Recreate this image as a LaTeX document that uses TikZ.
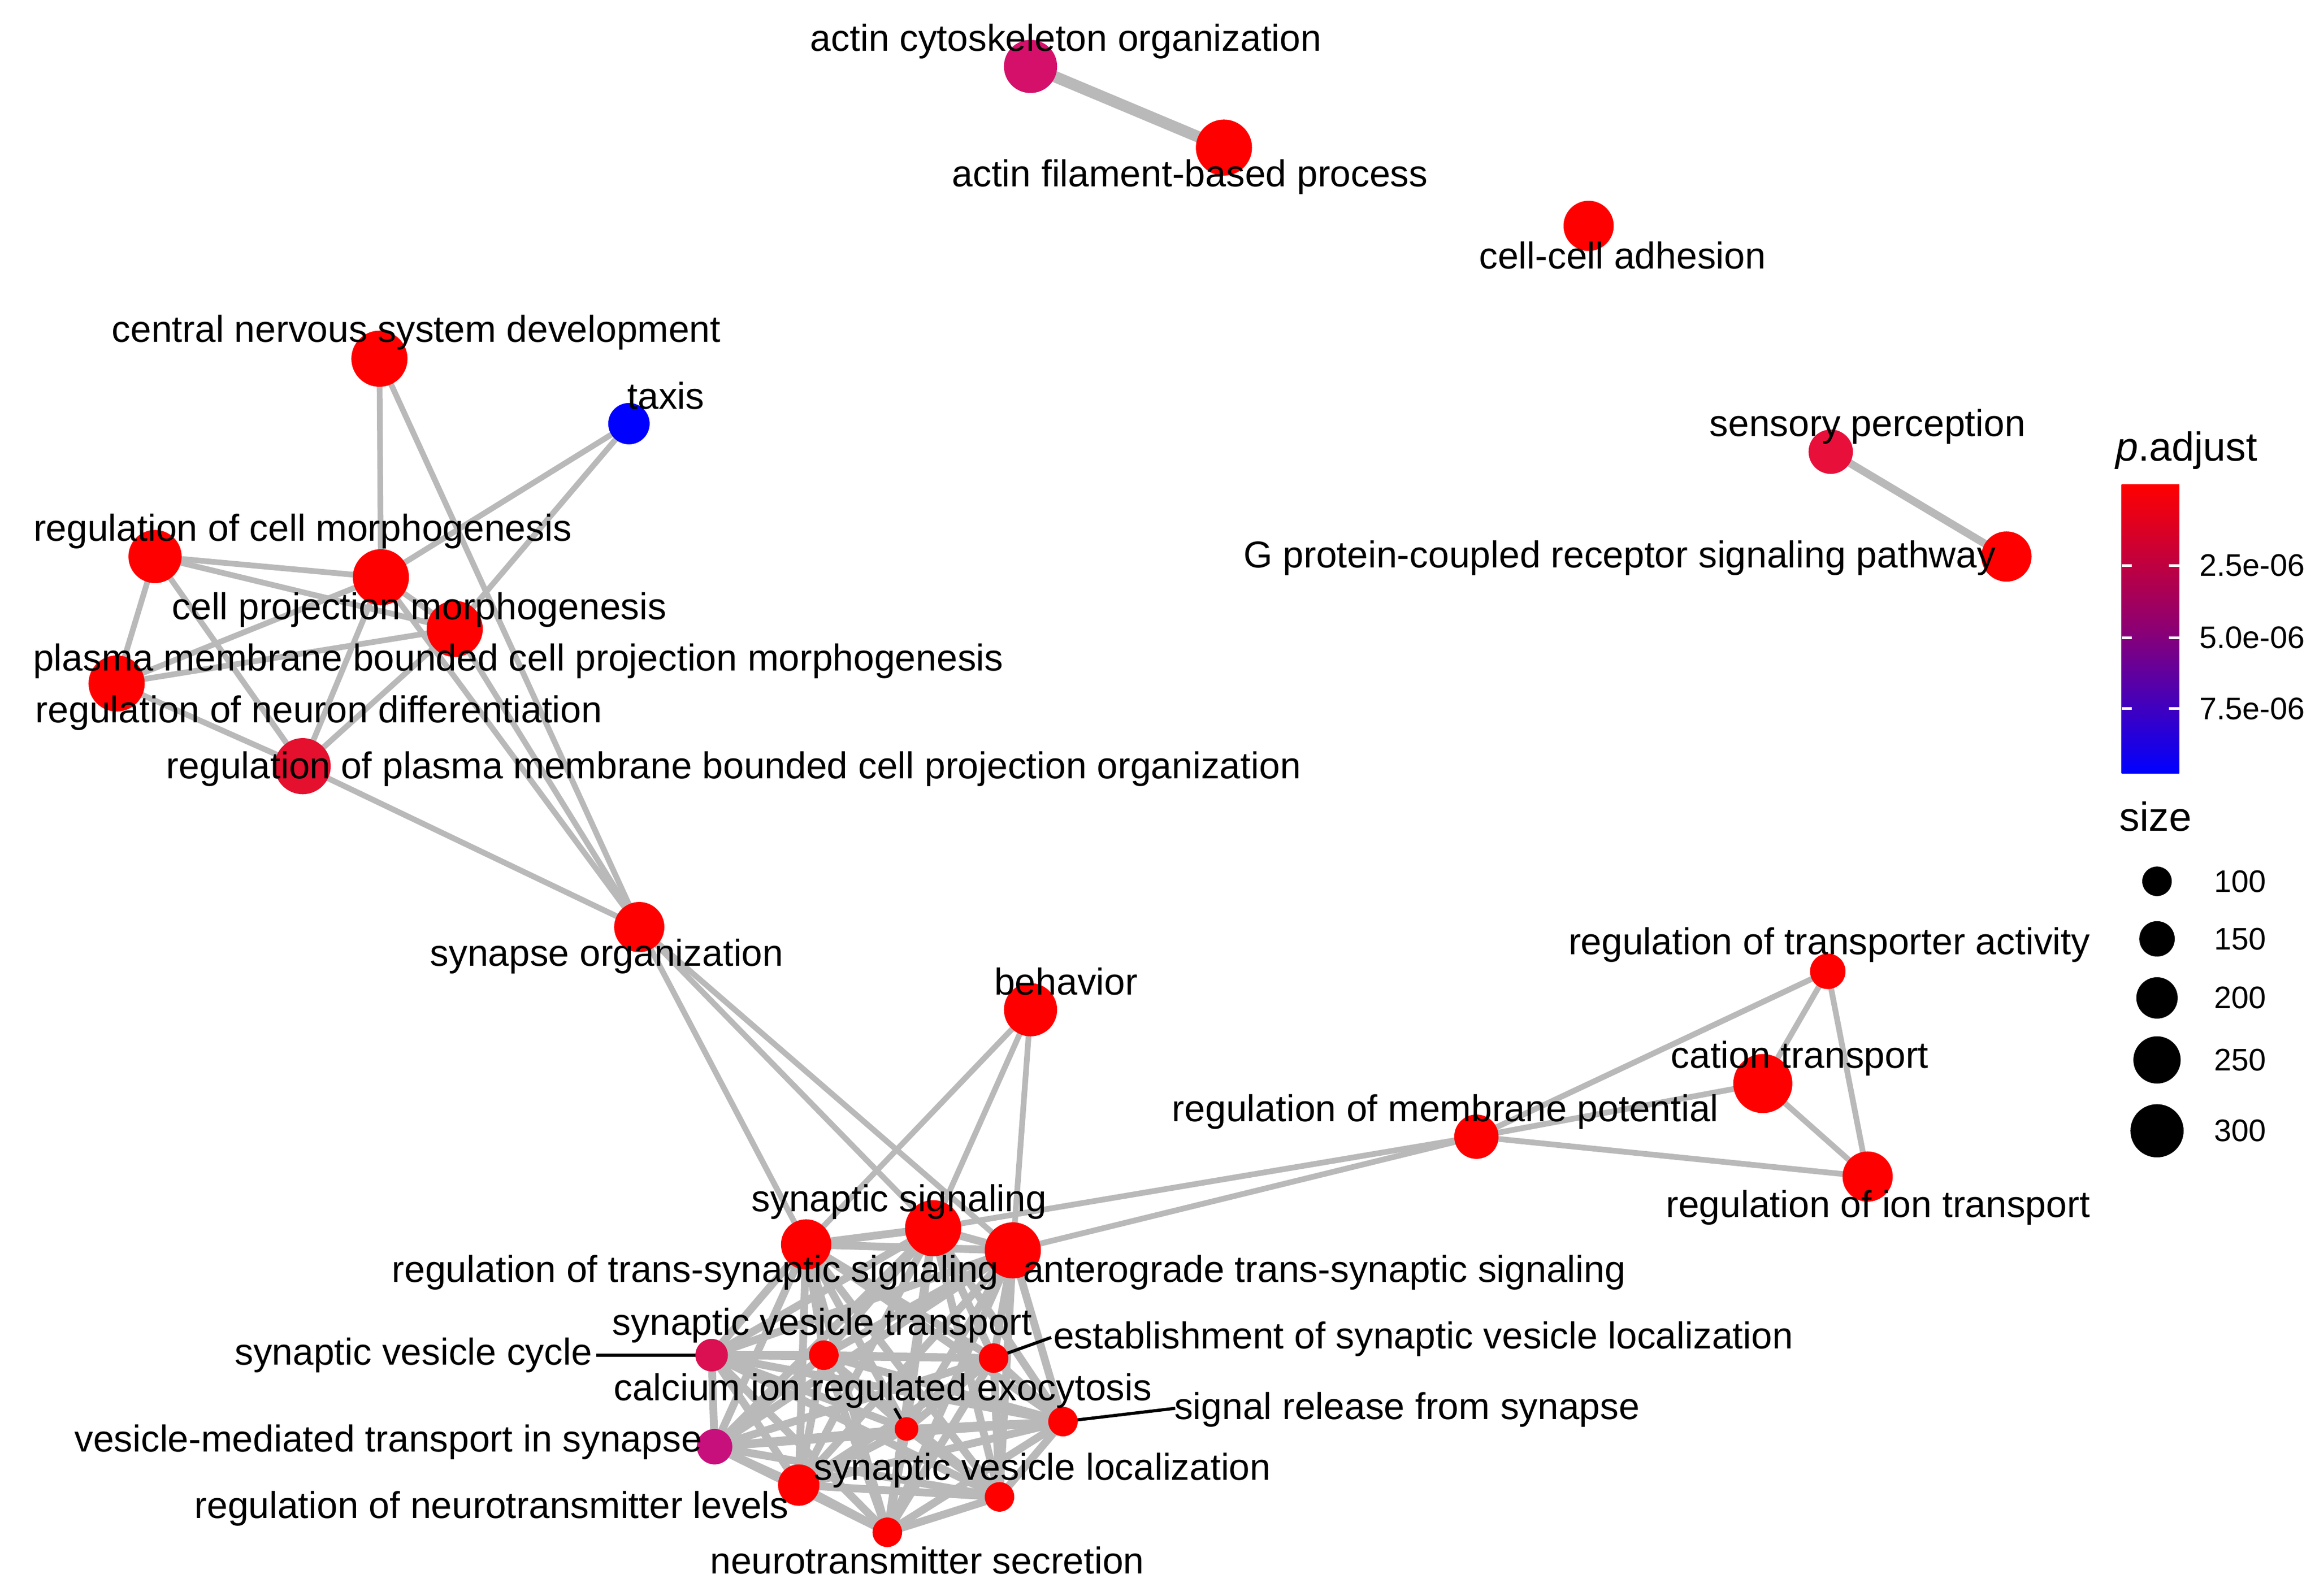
\documentclass[tikz,border=0pt]{standalone}
\usepackage{fontspec}
\setmainfont{Liberation Sans}
\begin{document}
\begin{tikzpicture}[x=0.01cm,y=-0.01cm,
  lbl/.style={font=\fontsize{7.2}{8}\selectfont,inner sep=0pt},
  lsm/.style={font=\fontsize{6}{7}\selectfont,inner sep=0pt,anchor=west},
  lbg/.style={font=\fontsize{7.8}{9}\selectfont,inner sep=0pt},
  e/.style={draw=gray!55,line width=1.1pt},
  ec/.style={draw=gray!55,line width=1.5pt},
  dot/.style={circle,inner sep=0pt,draw=none,fill=#1},
  ptr/.style={draw=black,line width=0.6pt}]
\useasboundingbox (0,0) rectangle (1568,1081);
\definecolor{cA}{HTML}{D4106A}
\definecolor{cS}{HTML}{E8103A}
\definecolor{cV}{HTML}{DA1052}
\definecolor{cM}{HTML}{C8107C}
\definecolor{cR}{HTML}{E4102E}
\foreach \n/\x/\y in {aco/698/45,afp/829/100,cca/1076/153,cns/257/243,tax/426/287,
 sp/1240/306,gpc/1359/377,rcm/105/377,cpm/258/391,pmb/308/426,rnd/79/463,rpm/205/519,
 so/433/628,beh/698/684,rta/1238/658,ct/1194/734,rmp/1000/770,rit/1265/797,
 ss/632/832,rts/546/843,ant/686/847,svc/482/918,svt/558/918,esv/673/920,cal/614/968,
 srs/720/963,vmt/484/980,rnl/541/1006,svl/677/1014,nts/601/1038}
 {\coordinate (\n) at (\x,\y);}
\draw[e,line width=2.2pt] (aco) -- (afp);
\draw[e,line width=1.5pt] (sp) -- (gpc);
\foreach \a/\b in {cns/cpm,cns/so,tax/cpm,tax/pmb,pmb/so,cpm/so,rpm/so,
 rcm/cpm,rcm/pmb,rcm/rnd,rcm/rpm,rnd/cpm,rnd/pmb,rnd/rpm,cpm/rpm,pmb/rpm,cpm/pmb,
 so/ss,so/rts,so/ant,beh/rts,beh/ss,beh/ant,ss/rmp,ant/rmp,
 rmp/ct,rmp/rta,ct/rta,ct/rit,rta/rit,rmp/rit}
 {\draw[e] (\a) -- (\b);}
\foreach \a/\bl in {ss/{rts,ant,svc,svt,esv,cal,srs,vmt,rnl,svl,nts},
 rts/{ant,svc,svt,esv,cal,srs,vmt,rnl,svl,nts},
 ant/{svc,svt,esv,cal,srs,vmt,rnl,svl,nts},
 svc/{svt,esv,cal,srs,vmt,rnl,svl,nts},
 svt/{esv,cal,srs,vmt,rnl,svl,nts},
 esv/{cal,srs,vmt,rnl,svl,nts},
 cal/{srs,vmt,rnl,svl,nts},
 srs/{vmt,rnl,svl,nts},
 vmt/{rnl,svl,nts},
 rnl/{svl,nts},
 svl/{nts}}
 {\foreach \b in \bl {\draw[ec] (\a) -- (\b);}}
\coordinate (p1) at (404,918); \coordinate (p2) at (712,906);
\coordinate (p3) at (606,954); \coordinate (p4) at (796,954);
\draw[ptr] (p1) -- (svc); \draw[ptr] (p2) -- (esv);
\draw[ptr] (p3) -- (cal); \draw[ptr] (p4) -- (srs);
\foreach \n/\r/\c in {aco/18/cA,afp/19/red,cca/17/red,cns/19/red,tax/14/blue,
 sp/15/cS,gpc/17/red,rcm/18/red,cpm/19/red,pmb/19/red,rnd/19/red,rpm/19/cR,
 so/17/red,beh/18/red,rta/12/red,ct/20/red,rmp/15/red,rit/17/red,
 ss/19/red,rts/17/red,ant/19/red,svc/11/cV,svt/10/red,esv/10/red,cal/8/red,
 srs/10/red,vmt/12/cM,rnl/14/red,svl/10/red,nts/10/red}
 {\node[dot=\c,minimum size=\r*0.02cm] (n\n) at (\n) {};}
\foreach \n/\x/\y/\t in {aco/722/28/actin cytoskeleton organization,
 afp/806/120/actin filament-based process,cca/1099/173/cell-cell adhesion,
 cns/282/225/central nervous system development,tax/451/268/taxis,
 sp/1265/289/sensory perception,gpc/1097/378/G protein-coupled receptor signaling pathway,
 rcm/205/360/regulation of cell morphogenesis,cpm/284/413/cell projection morphogenesis,
 pmb/351/448/plasma membrane bounded cell projection morphogenesis,
 rnd/216/483/regulation of neuron differentiation,
 rpm/497/521/regulation of plasma membrane bounded cell projection organization,
 so/411/648/synapse organization,beh/722/665/behavior,
 rta/1239/640/regulation of transporter activity,ct/1219/717/cation transport,
 rmp/979/753/regulation of membrane potential,rit/1272/818/regulation of ion transport,
 ss/609/814/synaptic signaling,rts/471/862/regulation of trans-synaptic signaling,
 ant/897/862/anterograde trans-synaptic signaling,svt/557/898/synaptic vesicle transport,
 svc/280/918/synaptic vesicle cycle,esv/964/907/establishment of synaptic vesicle localization,
 cal/598/942/calcium ion regulated exocytosis,srs/953/955/signal release from synapse,
 vmt/263/977/vesicle-mediated transport in synapse,svl/706/996/synaptic vesicle localization,
 rnl/333/1022/regulation of neurotransmitter levels,nts/628/1057/neurotransmitter secretion}
 {\node[lbl] (l\n) at (\x,\y) {\t};}
\node[lbg] (lpa) at (1481,305) {\textit{p}.adjust};
\shade[top color=red,bottom color=blue,middle color=red!55!blue] (1437,328) rectangle (1476,524);
\foreach \yy/\t in {383/2.5e-06,432/5.0e-06,480/7.5e-06}
 {\draw[white,line width=0.5pt] (1437,\yy) -- (1444,\yy) (1469,\yy) -- (1476,\yy);
  \node[lsm] (t\yy) at (1489,\yy) {\t};}
\node[lbg] (lsz) at (1460,553) {size};
\foreach \yy/\r/\t in {597/10/100,636/12/150,676/14/200,718/16/250,766/18/300}
 {\node[dot=black,minimum size=\r*0.02cm] (s\t) at (1461,\yy) {};
  \node[lsm] (st\t) at (1499,\yy) {\t};}
\end{tikzpicture}
\end{document}
